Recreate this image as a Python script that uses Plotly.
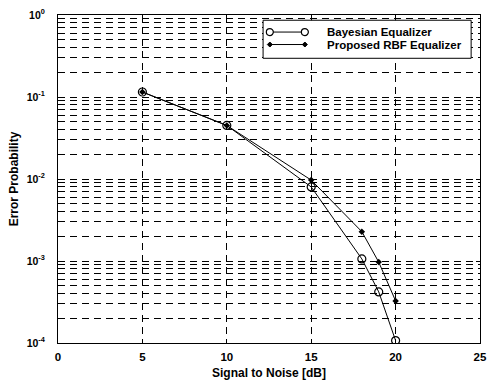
import plotly.graph_objects as go

snr = [5, 10, 15, 18, 19, 20]
bayesian = [0.115, 0.045, 0.0080, 0.00106, 0.00042, 0.000107]
rbf = [0.115, 0.045, 0.0097, 0.00228, 0.00097, 0.000326]
series_names = ["Bayesian Equalizer", "Proposed RBF Equalizer"]

x_ticks = [0, 5, 10, 15, 20, 25]
y_major = [1e-4, 1e-3, 1e-2, 1e-1, 1e0]
y_major_text = ["10<sup>-4</sup>", "10<sup>-3</sup>", "10<sup>-2</sup>", "10<sup>-1</sup>", "10<sup>0</sup>"]
y_minor = [m * 10.0 ** e for e in range(-4, 0) for m in range(2, 10)]

font = "Liberation Sans, Arial, sans-serif"

fig = go.Figure()
fig.add_trace(go.Scatter(
    x=snr, y=bayesian, mode="lines+markers", name=series_names[0],
    line=dict(color="black", width=1),
    marker=dict(symbol="circle-open", size=8, color="black", line=dict(width=1.2)),
))
fig.add_trace(go.Scatter(
    x=snr, y=rbf, mode="lines+markers", name=series_names[1],
    line=dict(color="black", width=1),
    marker=dict(symbol="diamond", size=5, color="black"),
))

grid = dict(showgrid=True, gridcolor="black", gridwidth=1, griddash="7px,5px")

# Compact MATLAB-style legend drawn in paper coordinates
lx0, lx1, ly0, ly1 = 0.486, 0.979, 0.868, 0.984
sx0, sx1, tx = 0.502, 0.585, 0.633
rows = [0.948, 0.910]
shapes = [dict(type="rect", xref="paper", yref="paper", x0=lx0, x1=lx1, y0=ly0, y1=ly1,
               line=dict(color="black", width=1), fillcolor="white", layer="above")]
annotations = []
for i, yr in enumerate(rows):
    shapes.append(dict(type="line", xref="paper", yref="paper", x0=sx0, x1=sx1, y0=yr, y1=yr,
                       line=dict(color="black", width=1), layer="above"))
    for xs in (sx0, sx1):
        if i == 0:
            shapes.append(dict(type="circle", xref="paper", yref="paper",
                               xsizemode="pixel", ysizemode="pixel", xanchor=xs, yanchor=yr,
                               x0=-3.5, x1=3.5, y0=-3.5, y1=3.5,
                               line=dict(color="black", width=1.2), fillcolor="white", layer="above"))
        else:
            shapes.append(dict(type="path", xref="paper", yref="paper",
                               xsizemode="pixel", ysizemode="pixel", xanchor=xs, yanchor=yr,
                               path="M 0 -2.5 L 2.5 0 L 0 2.5 L -2.5 0 Z",
                               line=dict(color="black", width=1), fillcolor="black", layer="above"))
    annotations.append(dict(xref="paper", yref="paper", x=tx, y=yr, xanchor="left", yanchor="middle",
                            text=series_names[i], showarrow=False,
                            font=dict(family=font, size=11.5, color="black", weight="bold")))

fig.update_layout(
    width=490, height=383,
    margin=dict(l=58, r=10, t=15, b=40),
    paper_bgcolor="white", plot_bgcolor="white",
    font=dict(family=font, size=11, color="black", weight="bold"),
    showlegend=False,
    shapes=shapes,
    annotations=annotations,
    xaxis=dict(
        range=[0, 25], tickmode="array", tickvals=x_ticks,
        ticks="inside", ticklen=4, tickcolor="black",
        showline=True, linecolor="black", linewidth=1, mirror="ticks",
        zeroline=False, ticklabelstandoff=3, automargin=False,
        tickfont=dict(size=11.5, weight="bold"),
        title=dict(text="Signal to Noise [dB]", standoff=6, font=dict(size=12, weight="bold")),
        **grid,
    ),
    yaxis=dict(
        type="log", range=[-4, 0], tickmode="array",
        tickvals=y_major, ticktext=y_major_text,
        ticks="inside", ticklen=4, tickcolor="black",
        showline=True, linecolor="black", linewidth=1, mirror="ticks",
        zeroline=False, ticklabelstandoff=10, automargin=False,
        tickfont=dict(size=10.5, weight="bold"),
        title=dict(text="Error Probability", standoff=5, font=dict(size=12, weight="bold")),
        minor=dict(tickmode="array", tickvals=y_minor, ticks="inside", ticklen=2,
                   tickcolor="black", showgrid=True, gridcolor="black",
                   gridwidth=1, griddash="7px,5px"),
        **grid,
    ),
)

fig.write_html("out.html")
